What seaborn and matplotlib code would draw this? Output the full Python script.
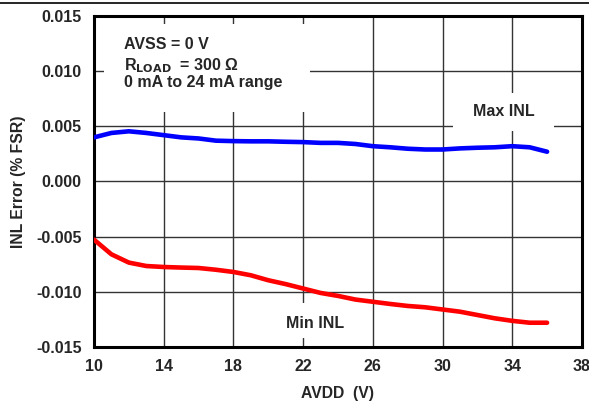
import matplotlib
matplotlib.use("Agg")
import matplotlib.pyplot as plt
from matplotlib.patches import Rectangle
from matplotlib.lines import Line2D
import numpy as np
import pandas as pd
import seaborn as sns

#%% data
avdd = [10, 11, 12, 13, 14, 15, 16, 17, 18, 19, 20, 21, 22, 23,
        24, 25, 26, 27, 28, 29, 30, 31, 32, 33, 34, 35, 36]
max_inl = [0.0040, 0.0044, 0.00455, 0.0044, 0.0042, 0.0040, 0.0039, 0.0037,
           0.00366, 0.00364, 0.00364, 0.0036, 0.00357, 0.0035, 0.0035, 0.0034,
           0.0032, 0.0031, 0.00297, 0.0029, 0.0029, 0.0030, 0.00306, 0.0031,
           0.0032, 0.0031, 0.0027]
min_inl = [-0.00527, -0.0066, -0.00735, -0.00766, -0.00775, -0.0078, -0.00784,
           -0.0080, -0.0082, -0.0085, -0.00895, -0.0093, -0.0097, -0.0101,
           -0.01037, -0.0107, -0.0109, -0.0111, -0.01128, -0.0114, -0.0116,
           -0.0118, -0.0121, -0.0124, -0.01263, -0.0128, -0.0128]
x_ticks = [10, 14, 18, 22, 26, 30, 34, 38]
y_ticks = [-0.015, -0.010, -0.005, 0.000, 0.005, 0.010, 0.015]

df = pd.DataFrame({'AVDD': avdd * 2,
                   'INL': max_inl + min_inl,
                   'curve': ['Max INL'] * len(avdd) + ['Min INL'] * len(avdd)})

#%% make graph
sns.set_style('white')
plt.rcParams['font.family'] = ['Liberation Sans', 'DejaVu Sans']
plt.rcParams['font.weight'] = 'bold'

fig = plt.figure(figsize=(5.89, 4.04), dpi=100)
ax = fig.add_axes([0.1596, 0.1411, 0.988 - 0.1596, 0.9604 - 0.1411])

sns.lineplot(data=df, x='AVDD', y='INL', hue='curve',
             palette={'Max INL': '#0000ff', 'Min INL': '#ff0000'},
             linewidth=3.3, legend=False, ax=ax, zorder=3,
             solid_capstyle='round', solid_joinstyle='round')

ax.set_xlim(10, 38)
ax.set_ylim(-0.015, 0.015)
ax.set_xticks(x_ticks)
ax.set_yticks(y_ticks)
ax.set_yticklabels(['%.3f' % v for v in y_ticks])
ax.grid(True, color='#333333', linewidth=1.0)
ax.set_axisbelow(True)
ax.tick_params(axis='both', labelsize=11.5, length=0, pad=9)
for lab in ax.get_xticklabels() + ax.get_yticklabels():
    lab.set_fontweight('bold')
for s in ax.spines.values():
    s.set_color('black')
    s.set_linewidth(2.2)

ax.set_xlabel('AVDD  (V)', fontsize=11.3, fontweight='bold', labelpad=8)
ax.set_ylabel('INL Error (% FSR)', fontsize=11.3, fontweight='bold', labelpad=7)

# white boxes behind the annotations hide the grid
ax.add_patch(Rectangle((10.57, 0.0063), 11.83, 0.00798, facecolor='white',
                       edgecolor='none', zorder=1))
ax.add_patch(Rectangle((30.6, 0.00462), 5.8, 0.00344, facecolor='white',
                       edgecolor='none', zorder=1))
ax.add_patch(Rectangle((21.2, -0.0142), 3.0, 0.00315, facecolor='white',
                       edgecolor='none', zorder=1))

ax.text(11.7, 0.0124, 'AVSS = 0 V', fontsize=11.5, fontweight='bold',
        va='center', ha='left', zorder=4)
ax.text(11.7, 0.0105, r'R$_{\mathbf{LOAD}}$  = 300 Ω', fontsize=11.5,
        fontweight='bold', va='center', ha='left', zorder=4)
ax.text(11.7, 0.0090, '0 mA to 24 mA range', fontsize=11.5, fontweight='bold',
        va='center', ha='left', zorder=4)
ax.text(33.5, 0.0063, 'Max INL', fontsize=11.5, fontweight='bold',
        va='center', ha='center', zorder=4)
ax.text(22.7, -0.0129, 'Min INL', fontsize=11.5, fontweight='bold',
        va='center', ha='center', zorder=4)

# page rule at the top
fig.add_artist(Line2D([0, 1], [1 - 2.5 / 404, 1 - 2.5 / 404], color='black',
                      linewidth=1.2, transform=fig.transFigure))

plt.savefig('out.png', dpi=100)
